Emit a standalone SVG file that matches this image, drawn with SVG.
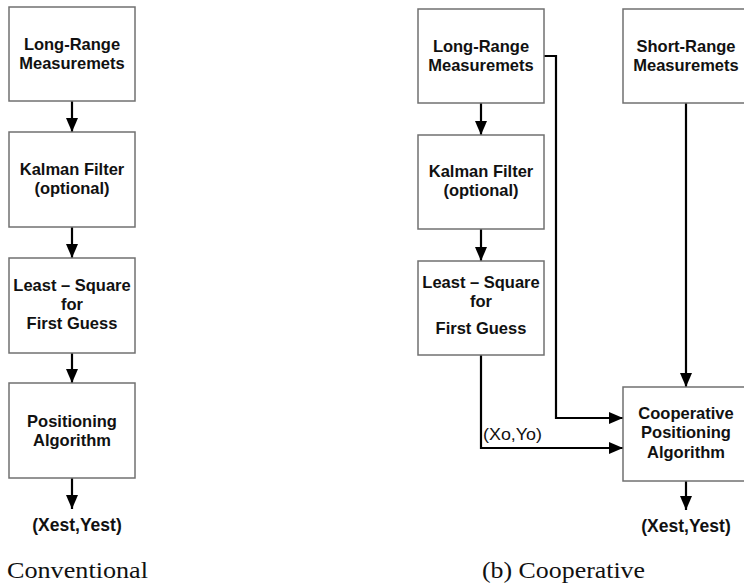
<svg xmlns="http://www.w3.org/2000/svg" width="744" height="588" viewBox="0 0 744 588">
<defs>
<marker id="ah" markerUnits="userSpaceOnUse" markerWidth="14" markerHeight="12" refX="14" refY="6" orient="auto">
<path d="M0,0 L14,6 L0,12 Z" fill="#000"/>
</marker>
<style>
.box{fill:#fff;stroke:#707070;stroke-width:1.5}
.t{font-family:"Liberation Sans",Arial,sans-serif;font-weight:bold;font-size:16.5px;fill:#111;text-anchor:middle}
.o{font-family:"Liberation Sans",Arial,sans-serif;font-weight:bold;font-size:17.5px;fill:#111;text-anchor:middle}
.c{font-family:"Liberation Serif","Times New Roman",serif;font-size:24px;fill:#111}
.l{font-family:"Liberation Sans",Arial,sans-serif;font-size:17px;fill:#111}
.e{fill:none;stroke:#000;stroke-width:2.2;marker-end:url(#ah)}
</style>
</defs>
<rect width="744" height="588" fill="#fff"/>
<g id="connectors">
<path class="e" d="M72,101 V132"/>
<path class="e" d="M72,227 V258"/>
<path class="e" d="M72,353 V383"/>
<path class="e" d="M72,478 V509"/>
<path class="e" d="M481,103 V135"/>
<path class="e" d="M481,229 V261"/>
<path class="e" d="M544,56 H556 V418 H623"/>
<path class="e" d="M481,355 V448 H623"/>
<path class="e" d="M686,103 V387"/>
<path class="e" d="M686,481 V510"/>
</g>
<g id="a_long">
<rect class="box" x="9" y="7" width="126" height="94"/>
<text class="t" x="72" y="50">Long-Range</text>
<text class="t" x="72" y="69">Measuremets</text>
</g>
<g id="a_kalman">
<rect class="box" x="9" y="132" width="126" height="95"/>
<text class="t" x="72" y="175">Kalman Filter</text>
<text class="t" x="72" y="194">(optional)</text>
</g>
<g id="a_ls">
<rect class="box" x="9" y="258" width="126" height="95"/>
<text class="t" x="72" y="291">Least – Square</text>
<text class="t" x="72" y="310">for</text>
<text class="t" x="72" y="329">First Guess</text>
</g>
<g id="a_pos">
<rect class="box" x="9" y="383" width="126" height="95"/>
<text class="t" x="72" y="427">Positioning</text>
<text class="t" x="72" y="446">Algorithm</text>
</g>
<g id="a_out">
<text class="o" x="77" y="531">(Xest,Yest)</text>
</g>
<g id="b_long">
<rect class="box" x="418" y="9" width="126" height="94"/>
<text class="t" x="481" y="52">Long-Range</text>
<text class="t" x="481" y="71">Measuremets</text>
</g>
<g id="b_short">
<rect class="box" x="623" y="9" width="126" height="94"/>
<text class="t" x="686" y="52">Short-Range</text>
<text class="t" x="686" y="71">Measuremets</text>
</g>
<g id="b_kalman">
<rect class="box" x="418" y="135" width="126" height="94"/>
<text class="t" x="481" y="177">Kalman Filter</text>
<text class="t" x="481" y="196">(optional)</text>
</g>
<g id="b_ls">
<rect class="box" x="418" y="261" width="126" height="94"/>
<text class="t" x="481" y="288">Least – Square</text>
<text class="t" x="481" y="307">for</text>
<text class="t" x="481" y="334">First Guess</text>
</g>
<g id="b_coop">
<rect class="box" x="623" y="387" width="126" height="94"/>
<text class="t" x="686" y="419">Cooperative</text>
<text class="t" x="686" y="438">Positioning</text>
<text class="t" x="686" y="458">Algorithm</text>
</g>
<g id="b_out">
<text class="o" x="686" y="532">(Xest,Yest)</text>
</g>
<text class="l" x="483" y="440" textLength="59" lengthAdjust="spacingAndGlyphs">(Xo,Yo)</text>
<text class="c" x="7" y="578" textLength="141" lengthAdjust="spacingAndGlyphs">Conventional</text>
<text class="c" x="482" y="578" textLength="163" lengthAdjust="spacingAndGlyphs">(b) Cooperative</text>
</svg>
